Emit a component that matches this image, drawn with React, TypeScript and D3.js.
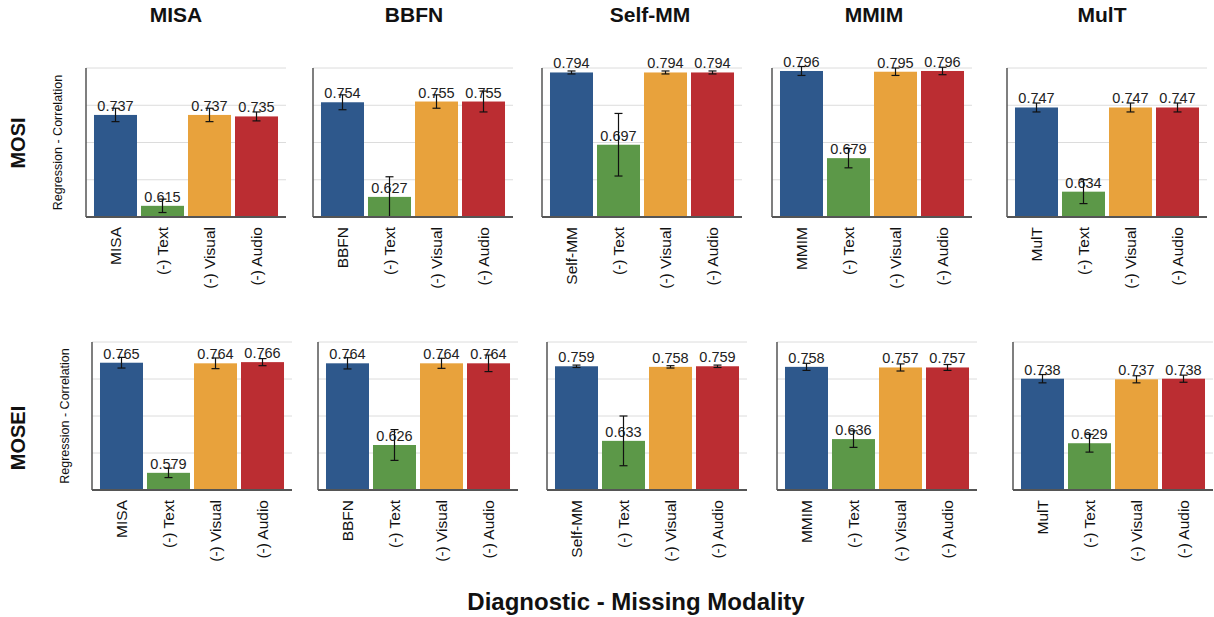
import * as d3 from "d3";

// ── data ─────────────────────────────────────────
const models = ["MISA", "BBFN", "Self-MM", "MMIM", "MulT"];
const conditions = ["(-) Text", "(-) Visual", "(-) Audio"];
const rows = ["MOSI", "MOSEI"];

const mosiValues = [
  [0.737, 0.615, 0.737, 0.735],
  [0.754, 0.627, 0.755, 0.755],
  [0.794, 0.697, 0.794, 0.794],
  [0.796, 0.679, 0.795, 0.796],
  [0.747, 0.634, 0.747, 0.747],
];
const mosiErrors = [
  [0.009, 0.009, 0.009, 0.006],
  [0.01, 0.027, 0.009, 0.014],
  [0.002, 0.042, 0.002, 0.002],
  [0.006, 0.013, 0.005, 0.005],
  [0.006, 0.016, 0.006, 0.006],
];
const moseiValues = [
  [0.765, 0.579, 0.764, 0.766],
  [0.764, 0.626, 0.764, 0.764],
  [0.759, 0.633, 0.758, 0.759],
  [0.758, 0.636, 0.757, 0.757],
  [0.738, 0.629, 0.737, 0.738],
];
const moseiErrors = [
  [0.009, 0.008, 0.009, 0.006],
  [0.0095, 0.026, 0.0085, 0.014],
  [0.002, 0.042, 0.002, 0.002],
  [0.006, 0.014, 0.006, 0.005],
  [0.007, 0.015, 0.006, 0.006],
];
const yDomains: [number, number][] = [
  [0.6, 0.8],
  [0.55, 0.8],
];

const colors = ["#2e588c", "#5c9848", "#e8a23c", "#bb2d32"];

// ── layout ───────────────────────────────────────
const W = 1214,
  H = 617,
  panelW = 200;
const panelLeft = [
  [86, 313, 542, 772, 1007],
  [92, 318, 547, 777, 1013],
];
const panelTop = [68, 342];
const panelBottom = [217, 490];
const titleX = [176, 414, 650, 874, 1102];
const rowLabelY = [143, 438];
const font = "'Liberation Sans', Arial, Helvetica, sans-serif";

function Panel({
  row,
  col,
  values,
  errors,
}: {
  row: number;
  col: number;
  values: number[];
  errors: number[];
}) {
  const cats = [models[col], ...conditions];
  const x0 = panelLeft[row][col];
  const x = d3
    .scaleBand<string>()
    .domain(cats)
    .range([x0, x0 + panelW])
    .paddingInner(0.085)
    .paddingOuter(0.17);
  const y = d3
    .scaleLinear()
    .domain(yDomains[row])
    .range([panelBottom[row], panelTop[row]]);
  const [lo, hi] = yDomains[row];
  const grid = d3.range(1, 5).map((k) => lo + ((hi - lo) * k) / 4);
  const bw = x.bandwidth();

  return (
    <g>
      {grid.map((g, i) => (
        <line
          key={i}
          x1={x0}
          x2={x0 + panelW}
          y1={y(g)}
          y2={y(g)}
          stroke="#dcdcdc"
          strokeWidth={1}
        />
      ))}
      {cats.map((c, i) => (
        <rect
          key={c}
          x={x(c)}
          y={y(values[i])}
          width={bw}
          height={y(lo) - y(values[i])}
          fill={colors[i]}
        />
      ))}
      {cats.map((c, i) => (
        <text
          key={c}
          x={x(c)! + bw / 2}
          y={y(values[i]) - 4}
          textAnchor="middle"
          fontSize={14.5}
          fill="#222"
        >
          {values[i].toFixed(3)}
        </text>
      ))}
      {cats.map((c, i) => {
        const cx = x(c)! + bw / 2;
        const y1 = y(values[i] + errors[i]);
        const y2 = y(values[i] - errors[i]);
        return (
          <g key={c} stroke="#111" strokeWidth={1.2}>
            <line x1={cx} x2={cx} y1={y1} y2={y2} />
            <line x1={cx - 4} x2={cx + 4} y1={y1} y2={y1} />
            <line x1={cx - 4} x2={cx + 4} y1={y2} y2={y2} />
          </g>
        );
      })}
      <line
        x1={x0}
        x2={x0}
        y1={panelTop[row]}
        y2={panelBottom[row]}
        stroke="#555"
        strokeWidth={1.5}
      />
      <line
        x1={x0}
        x2={x0 + panelW}
        y1={panelBottom[row]}
        y2={panelBottom[row]}
        stroke="#555"
        strokeWidth={2}
      />
      {cats.map((c) => {
        const cx = x(c)! + bw / 2;
        const ty = panelBottom[row] + 10;
        return (
          <text
            key={c}
            transform={`translate(${cx + 5.5},${ty}) rotate(-90)`}
            textAnchor="end"
            fontSize={15.5}
            fill="#111"
          >
            {c}
          </text>
        );
      })}
    </g>
  );
}

export default function App() {
  const rowValues = [mosiValues, moseiValues];
  const rowErrors = [mosiErrors, moseiErrors];
  const yLabelX = [58, 65];
  return (
    <svg
      width={W}
      height={H}
      style={{ position: "absolute", left: 0, top: 0, background: "#fff" }}
      fontFamily={font}
    >
      <rect width={W} height={H} fill="#fff" />
      {models.map((m, i) => (
        <text
          key={m}
          x={titleX[i]}
          y={22}
          textAnchor="middle"
          fontSize={21}
          fontWeight="bold"
          fill="#111"
        >
          {m}
        </text>
      ))}
      {rows.map((r, ri) => {
        const cy = (panelTop[ri] + panelBottom[ri]) / 2;
        return (
          <g key={r}>
            <text
              transform={`translate(25,${rowLabelY[ri]}) rotate(-90)`}
              textAnchor="middle"
              fontSize={20}
              fontWeight="bold"
              fill="#111"
            >
              {r}
            </text>
            <text
              transform={`translate(${yLabelX[ri] + 4},${cy}) rotate(-90)`}
              textAnchor="middle"
              fontSize={12.5}
              fill="#111"
            >
              Regression - Correlation
            </text>
            {models.map((m, ci) => (
              <Panel
                key={m}
                row={ri}
                col={ci}
                values={rowValues[ri][ci]}
                errors={rowErrors[ri][ci]}
              />
            ))}
          </g>
        );
      })}
      <text
        x={636}
        y={610}
        textAnchor="middle"
        fontSize={24}
        fontWeight="bold"
        fill="#111"
      >
        Diagnostic - Missing Modality
      </text>
    </svg>
  );
}
